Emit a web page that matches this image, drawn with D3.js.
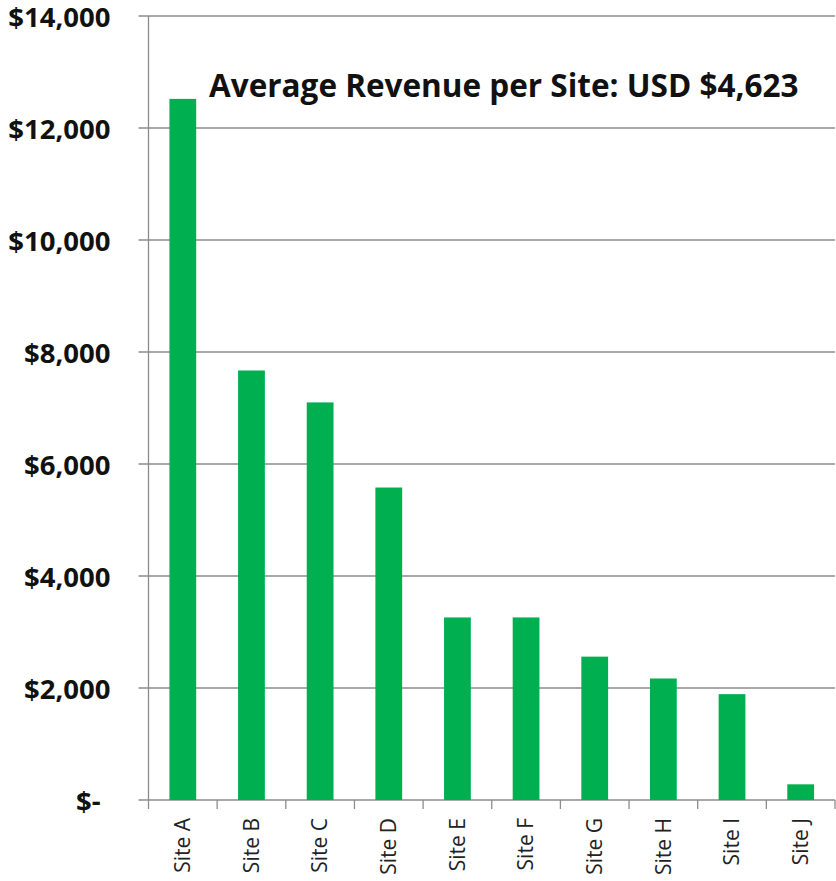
<!DOCTYPE html>
<html>
<head>
<meta charset="utf-8">
<script src="https://cdn.jsdelivr.net/npm/d3@7"></script>
<style>
  body { margin: 0; background: #fff; }
  svg { display: block; }
</style>
</head>
<body>
<svg id="chart" width="836" height="881"></svg>
<script>
var sites = ["Site A", "Site B", "Site C", "Site D", "Site E", "Site F", "Site G", "Site H", "Site I", "Site J"];
var revenue = [12520, 7670, 7100, 5580, 3260, 3260, 2560, 2170, 1890, 280];
var yTicks = [0, 2000, 4000, 6000, 8000, 10000, 12000, 14000];
var title = "Average Revenue per Site: USD $4,623";

var svg = d3.select("#chart");
var margin = {top: 16, right: 1, bottom: 81, left: 148.5};
var width = 836 - margin.left - margin.right;
var height = 881 - margin.top - margin.bottom;

var g = svg.append("g").attr("transform", "translate(" + margin.left + "," + margin.top + ")");

var x = d3.scaleBand().domain(sites).range([0, width]).paddingInner(0.61).paddingOuter(0.305);
var y = d3.scaleLinear().domain([0, 14000]).range([height, 0]);

// gridlines + y ticks
g.selectAll("line.grid")
    .data(yTicks)
    .enter()
    .append("line")
        .attr("class", "grid")
        .attr("x1", -10)
        .attr("x2", width)
        .attr("y1", d => y(d))
        .attr("y2", d => y(d))
        .attr("stroke", "#8c8c8c")
        .attr("stroke-width", 1.3);

// y labels (accounting style)
g.selectAll("text.ylab")
    .data(yTicks)
    .enter()
    .append("text")
        .attr("class", "ylab")
        .attr("x", d => d === 0 ? -48 : -38)
        .attr("y", d => y(d))
        .attr("dy", "0.4em")
        .attr("text-anchor", "end")
        .attr("font-family", "'Open Sans', sans-serif")
        .attr("font-weight", "bold")
        .attr("font-size", 27.5)
        .attr("fill", "#111")
        .text(d => d === 0 ? "$-" : "$" + d3.format(",")(d));

// bars
g.selectAll("rect")
    .data(revenue)
    .enter()
    .append("rect")
        .attr("x", (d, i) => x(sites[i]))
        .attr("width", x.bandwidth())
        .attr("y", d => y(d))
        .attr("height", d => height - y(d))
        .attr("fill", "#00b050");

// y axis line
g.append("line")
    .attr("x1", 0).attr("x2", 0)
    .attr("y1", 0).attr("y2", height)
    .attr("stroke", "#8c8c8c")
    .attr("stroke-width", 1.3);

// x axis ticks at band boundaries
var step = x.step();
g.selectAll("line.xtick")
    .data(d3.range(sites.length + 1))
    .enter()
    .append("line")
        .attr("class", "xtick")
        .attr("x1", d => d * step)
        .attr("x2", d => d * step)
        .attr("y1", height)
        .attr("y2", height + 9)
        .attr("stroke", "#8c8c8c")
        .attr("stroke-width", 1.3);

// x labels rotated
g.selectAll("text.xlab")
    .data(sites)
    .enter()
    .append("text")
        .attr("class", "xlab")
        .attr("transform", d => "translate(" + (x(d) + x.bandwidth() / 2) + "," + (height + 18) + ") rotate(-90)")
        .attr("dy", "0.35em")
        .attr("text-anchor", "end")
        .attr("font-family", "'Open Sans', sans-serif")
        .attr("font-size", 21)
        .attr("fill", "#222")
        .text(d => d);

// title
svg.append("text")
    .attr("x", 209)
    .attr("y", 97)
    .attr("font-family", "'Open Sans', sans-serif")
    .attr("font-weight", "bold")
    .attr("font-size", 31.5)
    .attr("fill", "#111")
    .text(title);
</script>
</body>
</html>
